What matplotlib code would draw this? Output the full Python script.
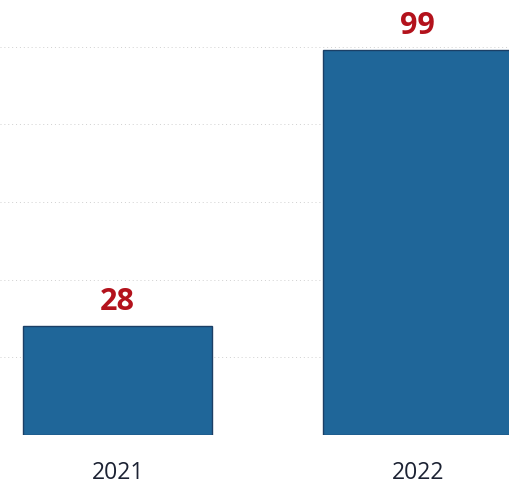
import matplotlib
matplotlib.use("Agg")
import matplotlib.pyplot as plt

years = ["2021", "2022"]
values = [28, 99]
grid_levels = [20, 40, 60, 80, 100]

plt.rcParams['font.family'] = ['Open Sans', 'DejaVu Sans']

fig = plt.figure(figsize=(5.1, 4.86), dpi=100)
ax = fig.add_axes([0, 51 / 486, 1, 435 / 486])

x = list(range(len(years)))
ax.bar(x, values, width=0.63, color="#1f6699", edgecolor="#1b3f66", linewidth=1, zorder=2)

# faint dotted gridlines
for g in grid_levels:
    ax.axhline(g, color="#d0d0d0", linestyle=(0, (1, 3)), linewidth=0.7, zorder=1)

for xi, v in zip(x, values):
    ax.annotate(str(v), (xi, v), xytext=(0, 7), textcoords="offset points",
                ha="center", va="bottom", fontsize=22, fontweight="bold", color="#b3121c")

ax.set_xlim(-0.392, 1.307)
ax.set_ylim(0, 112)
ax.set_xticks(x)
ax.set_xticklabels(years, fontsize=16.5, color="#1c2233")
ax.tick_params(axis="x", length=0, pad=19)
ax.set_yticks([])
for s in ax.spines.values():
    s.set_visible(False)

fig.savefig("out.png", dpi=100)
